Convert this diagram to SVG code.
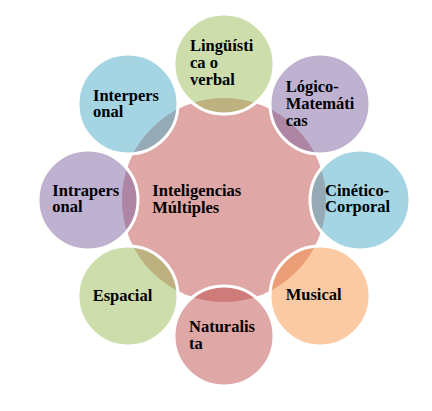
<svg xmlns="http://www.w3.org/2000/svg" width="432" height="411" viewBox="0 0 432 411">
<style>
.o{stroke:#fff;stroke-width:3;fill-opacity:0.5}
.g{fill:#9BBB59}.p{fill:#8064A2}.b{fill:#4BACC6}.r{fill:#C0504D}.y{fill:#F79646}
.t{font-family:'Liberation Serif','Times New Roman',Tinos,'DejaVu Serif',serif;font-weight:700;font-size:16.5px;fill:#000}
</style>
<rect width="432" height="411" fill="#fff"/>
<g id="connectors"/>
<g id="center"><circle cx="224" cy="200" r="102" fill="#C0504D" fill-opacity="0.5"/>
<text class="t" x="152.3" y="195.7">Inteligencias</text><text class="t" x="152.3" y="212.5">Múltiples</text></g>
<g id="linguistica"><circle class="o g" cx="224" cy="64" r="50"/>
<text class="t" x="190" y="51.3">Lingüísti</text><text class="t" x="190" y="68">ca o</text><text class="t" x="190" y="84.7">verbal</text></g>
<g id="logico"><circle class="o p" cx="320" cy="104" r="50"/>
<text class="t" x="285.7" y="92.3">Lógico-</text><text class="t" x="285.7" y="109">Matemáti</text><text class="t" x="285.7" y="125.7">cas</text></g>
<g id="cinetico"><circle class="o b" cx="360" cy="200" r="50"/>
<text class="t" x="325" y="195.7">Cinético-</text><text class="t" x="325" y="212.4">Corporal</text></g>
<g id="musical"><circle class="o y" cx="320" cy="296" r="50"/>
<text class="t" x="285.7" y="300.3">Musical</text></g>
<g id="naturalista"><circle class="o r" cx="224" cy="336" r="50"/>
<text class="t" x="189" y="332.3">Naturalis</text><text class="t" x="189" y="349">ta</text></g>
<g id="espacial"><circle class="o g" cx="128" cy="296" r="50"/>
<text class="t" x="92.7" y="300.5">Espacial</text></g>
<g id="intrapersonal"><circle class="o p" cx="88" cy="200" r="50"/>
<text class="t" x="52.3" y="195.7">Intrapers</text><text class="t" x="52.3" y="212.4">onal</text></g>
<g id="interpersonal"><circle class="o b" cx="128" cy="104" r="50"/>
<text class="t" x="93" y="100.7">Interpers</text><text class="t" x="93" y="117.4">onal</text></g>
</svg>
